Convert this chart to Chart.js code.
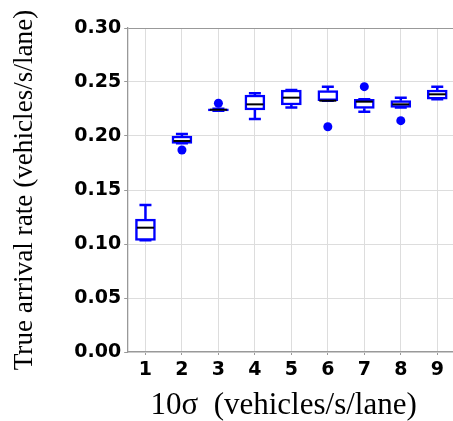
<!DOCTYPE html>
<html>
<head>
<meta charset="utf-8">
<script src="https://cdn.jsdelivr.net/npm/chart.js@4.4.1/dist/chart.umd.min.js"></script>
<style>
  html, body { margin: 0; padding: 0; background: #fff; overflow: hidden; }
  #chartBox { display: block; }
</style>
</head>
<body>
<canvas id="chartBox" width="460" height="438"></canvas>
<script>
// 数据
const categories = ['1', '2', '3', '4', '5', '6', '7', '8', '9'];
const whiskerLow = [0.1034, 0.1932, 0.2233, 0.2157, 0.2265, 0.2327, 0.2225, 0.2265, 0.2340];
const quartile1 = [0.1034, 0.1932, 0.2233, 0.2241, 0.2287, 0.2327, 0.2256, 0.2265, 0.2340];
const medians = [0.1151, 0.1954, 0.2243, 0.2293, 0.2355, 0.2327, 0.2318, 0.2293, 0.2386];
const quartile3 = [0.1231, 0.2000, 0.2252, 0.2380, 0.2426, 0.2420, 0.2340, 0.2327, 0.2426];
const whiskerHigh = [0.1361, 0.2019, 0.2252, 0.2395, 0.2426, 0.2457, 0.2340, 0.2355, 0.2457];
const outliers = [null, 0.1870, 0.2303, null, null, 0.2086, 0.2457, 0.2142, null];
const yTicks = [0, 0.05, 0.10, 0.15, 0.20, 0.25, 0.30];

const boxColor = '#0000ff';

// 画须线、端帽和中位线
const boxExtras = {
    id: 'boxExtras',
    beforeDatasetsDraw(chart) {
        const ctx = chart.ctx;
        const y = chart.scales.y;
        const bars = chart.getDatasetMeta(0).data;
        ctx.save();
        ctx.strokeStyle = boxColor;
        ctx.lineWidth = 2.5;
        bars.forEach((bar, i) => {
            const cx = bar.x;
            const hi = y.getPixelForValue(whiskerHigh[i]);
            const lo = y.getPixelForValue(whiskerLow[i]);
            ctx.beginPath();
            ctx.moveTo(cx, y.getPixelForValue(quartile3[i]));
            ctx.lineTo(cx, hi);
            ctx.moveTo(cx, y.getPixelForValue(quartile1[i]));
            ctx.lineTo(cx, lo);
            ctx.moveTo(cx - 6, hi);
            ctx.lineTo(cx + 6, hi);
            ctx.moveTo(cx - 6, lo);
            ctx.lineTo(cx + 6, lo);
            ctx.stroke();
        });
        ctx.restore();
    },
    afterDatasetsDraw(chart) {
        const ctx = chart.ctx;
        const y = chart.scales.y;
        const bars = chart.getDatasetMeta(0).data;
        ctx.save();
        ctx.strokeStyle = '#000';
        ctx.lineWidth = 2;
        bars.forEach((bar, i) => {
            const py = y.getPixelForValue(medians[i]);
            ctx.beginPath();
            ctx.moveTo(bar.x - 8.5, py);
            ctx.lineTo(bar.x + 8.5, py);
            ctx.stroke();
        });
        ctx.restore();
    }
};

const tickFont = { family: 'DejaVu Sans', size: 19, weight: 'bold' };

let config_chartBox = {
    type: 'bar',
    data: {
        labels: categories,
        datasets: [
            {
                type: 'bar',
                data: quartile1.map((v, i) => [v, quartile3[i]]),
                backgroundColor: '#ffffff',
                borderColor: boxColor,
                borderWidth: 2.5,
                borderSkipped: false,
                barThickness: 20,
                order: 2
            },
            {
                type: 'line',
                data: outliers,
                showLine: false,
                pointRadius: 4.5,
                pointHoverRadius: 4.5,
                pointBackgroundColor: boxColor,
                pointBorderColor: boxColor,
                pointBorderWidth: 0,
                order: 1
            }
        ]
    },
    options: {
        responsive: false,
        animation: false,
        events: [],
        layout: { padding: { top: 28, right: 1, bottom: 0, left: 0 } },
        plugins: { legend: { display: false }, tooltip: { enabled: false } },
        scales: {
            x: {
                offset: true,
                grid: { offset: false, color: '#dddddd', tickLength: 3, tickColor: '#999999' },
                border: { color: '#999999', width: 1.3 },
                ticks: { font: tickFont, color: '#000', padding: 3.6, maxRotation: 0 },
                title: {
                    display: true,
                    text: '10σ  (vehicles/s/lane)  ',
                    font: { family: 'Liberation Serif', size: 31, lineHeight: 1 },
                    color: '#000',
                    padding: { top: 5.5, bottom: 16.5 }
                }
            },
            y: {
                min: 0,
                max: 0.30,
                afterBuildTicks: axis => { axis.ticks = yTicks.map(v => ({ value: v })); },
                grid: {
                    color: c => (c.tick && c.tick.value >= 0.2999 ? '#999999' : '#dddddd'),
                    tickLength: 3,
                    tickColor: '#999999'
                },
                border: { color: '#999999', width: 1.3 },
                ticks: {
                    font: tickFont,
                    color: '#000',
                    padding: 3,
                    callback: v => Number(v).toFixed(2)
                },
                title: {
                    display: true,
                    text: 'True arrival rate (vehicles/s/lane)',
                    font: { family: 'Liberation Serif', size: 27.2 },
                    color: '#000',
                    padding: { top: 9, bottom: 29.7 }
                }
            }
        }
    },
    plugins: [boxExtras]
};

let chartBox = new Chart(document.getElementById('chartBox'), config_chartBox);
</script>
</body>
</html>
